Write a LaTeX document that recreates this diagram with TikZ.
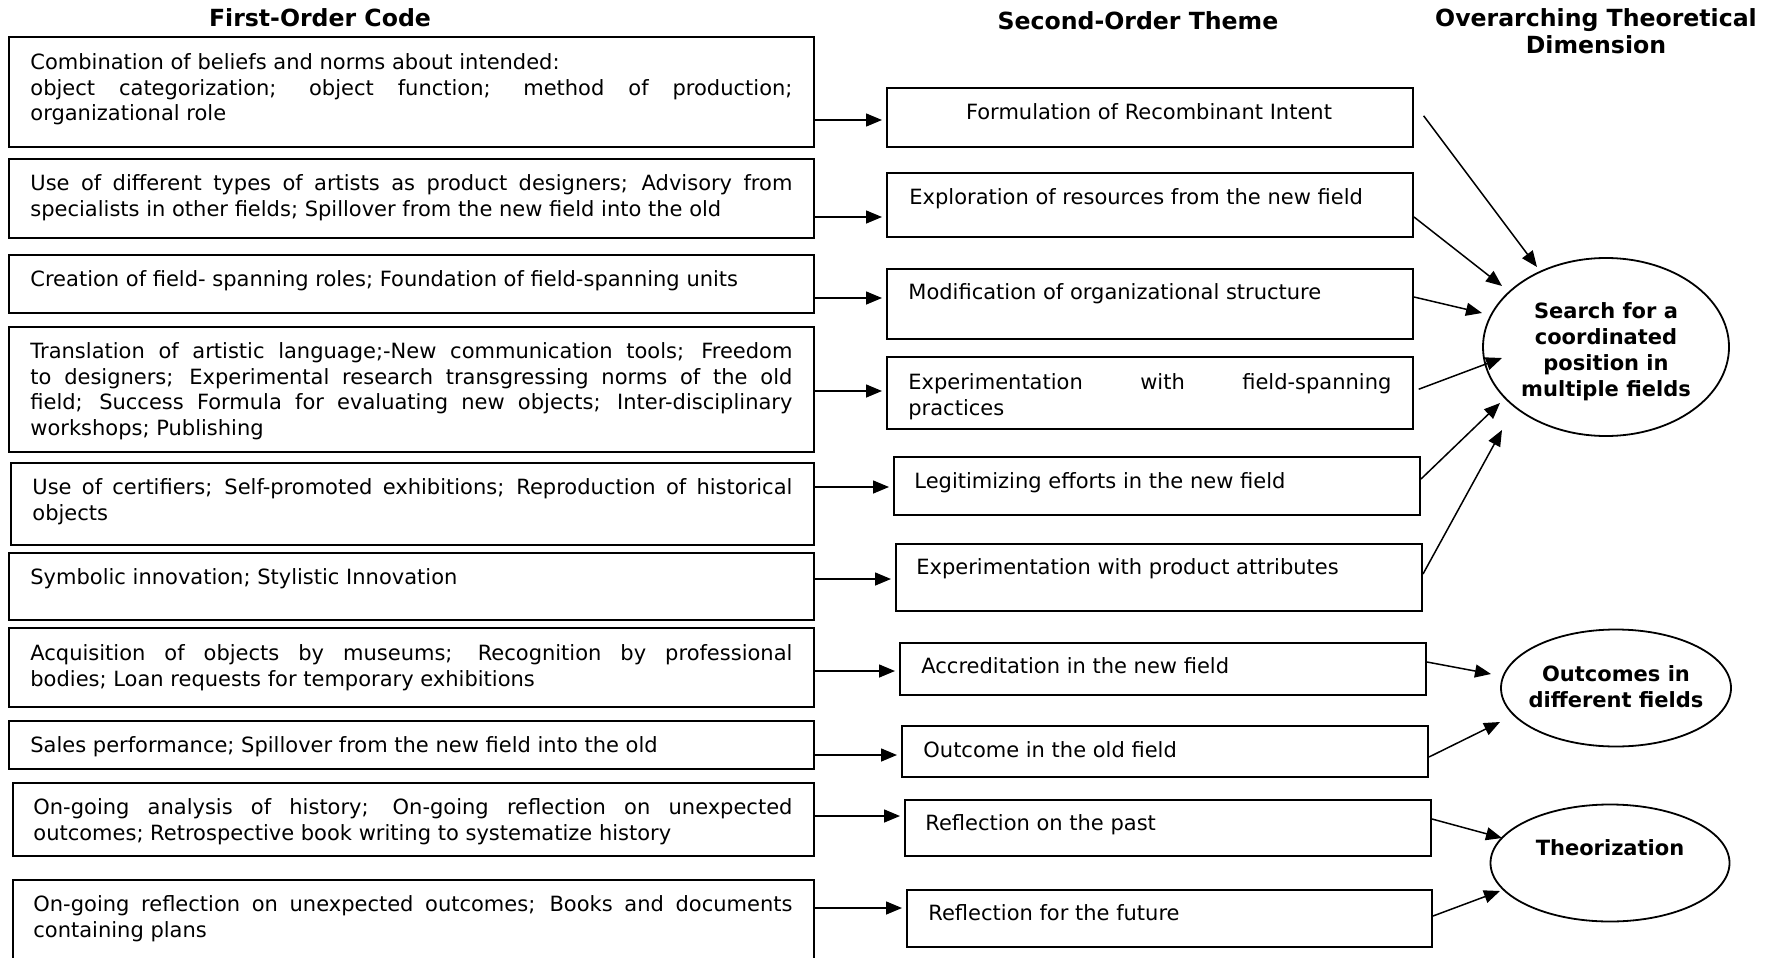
\documentclass[tikz,border=0pt]{standalone}
\usepackage{fontspec}
\setmainfont{DejaVu Sans}
\usetikzlibrary{arrows.meta,fit,shapes.geometric}
\hyphenpenalty=10000
\exhyphenpenalty=10000
\begin{document}
\begin{tikzpicture}[x=0.5pt,y=-0.5pt,
  box/.style={draw, line width=1pt, inner sep=0pt},
  ltxt/.style={anchor=north west, inner sep=0pt, align=justify, font=\fontsize{10.5}{12.9}\selectfont},
  rtxt/.style={anchor=west, inner sep=0pt, font=\fontsize{10.5}{12.9}\selectfont, text height=7pt, text depth=2pt},
  ttl/.style={font=\bfseries\fontsize{11.8}{13.5}\selectfont, align=center, inner sep=0pt},
  oval/.style={draw, ellipse, line width=0.9pt, inner sep=0pt},
  otxt/.style={font=\bfseries\fontsize{10.5}{13}\selectfont, align=center, inner sep=0pt},
  arr/.style={line width=0.75pt, -{Triangle[length=8pt,width=6.5pt]}}
]
\useasboundingbox (0,0) rectangle (1773,958);
\clip (0,0) rectangle (1773,958);
\fill[white] (0,0) rectangle (1773,958);

% titles
\node[ttl] (h1) at (320,18) {First-Order Code};
\node[ttl] (h2) at (1138,21) {Second-Order Theme};
\node[ttl] (h3) at (1596,31) {Overarching Theoretical\\Dimension};

% left boxes
\node[box, fit={(9,37) (814,147)}] (l1) {};
\node[box, fit={(9,159) (814,238)}] (l2) {};
\node[box, fit={(9,255) (814,313)}] (l3) {};
\node[box, fit={(9,327) (814,452)}] (l4) {};
\node[box, fit={(11,463) (814,545)}] (l5) {};
\node[box, fit={(9,553) (814,620)}] (l6) {};
\node[box, fit={(9,628) (814,707)}] (l7) {};
\node[box, fit={(9,721) (814,769)}] (l8) {};
\node[box, fit={(13,783) (814,856)}] (l9) {};
\node[box, fit={(13,880) (814,975)}] (l10) {};

\node[ltxt, text width=381pt] (l1t) at (30,53) {Combination of beliefs and norms about intended:\newline object categorization; object function; method of production;\linebreak organizational role};
\node[ltxt, text width=381pt] (l2t) at (30,174) {Use of different types of artists as product designers; Advisory from\linebreak specialists in other fields; Spillover from the new field into the old};
\node[ltxt, text width=381pt] (l3t) at (30,270) {Creation of field- spanning roles; Foundation of field-spanning units};
\node[ltxt, text width=381pt] (l4t) at (30,342) {Translation of artistic language;-New communication tools; Freedom\linebreak to designers; Experimental research transgressing norms of the old\linebreak field; Success Formula for evaluating new objects; Inter-disciplinary\linebreak workshops; Publishing};
\node[ltxt, text width=380pt] (l5t) at (32,478) {Use of certifiers; Self-promoted exhibitions; Reproduction of historical\linebreak objects};
\node[ltxt, text width=381pt] (l6t) at (30,568) {Symbolic innovation; Stylistic Innovation};
\node[ltxt, text width=381pt] (l7t) at (30,644) {Acquisition of objects by museums; Recognition by professional\linebreak bodies; Loan requests for temporary exhibitions};
\node[ltxt, text width=381pt] (l8t) at (30,736) {Sales performance; Spillover from the new field into the old};
\node[ltxt, text width=379.5pt] (l9t) at (33,798) {On-going analysis of history; On-going reflection on unexpected\linebreak outcomes; Retrospective book writing to systematize history};
\node[ltxt, text width=379.5pt] (l10t) at (33,895) {On-going reflection on unexpected outcomes; Books and documents\linebreak containing plans};

% right boxes
\node[box, fit={(887,88) (1413,147)}] (r1) {};
\node[box, fit={(887,173) (1413,237)}] (r2) {};
\node[box, fit={(887,269) (1413,339)}] (r3) {};
\node[box, fit={(887,357) (1413,429)}] (r4) {};
\node[box, fit={(894,457) (1420,515)}] (r5) {};
\node[box, fit={(896,544) (1422,611)}] (r6) {};
\node[box, fit={(900,643) (1426,695)}] (r7) {};
\node[box, fit={(902,726) (1428,777)}] (r8) {};
\node[box, fit={(905,800) (1431,856)}] (r9) {};
\node[box, fit={(907,890) (1432,947)}] (r10) {};

\node[rtxt, anchor=center] (r1t) at (1149,114) {Formulation of Recombinant Intent};
\node[rtxt] (r2t) at (909,199) {Exploration of resources from the new field};
\node[rtxt] (r3t) at (908,294) {Modification of organizational structure};
\node[ltxt, text width=241.5pt] (r4t) at (908,373) {Experimentation with field-spanning\linebreak practices};
\node[rtxt] (r5t) at (914,483) {Legitimizing efforts in the new field};
\node[rtxt] (r6t) at (916,569) {Experimentation with product attributes};
\node[rtxt] (r7t) at (921,668) {Accreditation in the new field};
\node[rtxt] (r8t) at (923,752) {Outcome in the old field};
\node[rtxt] (r9t) at (925,825) {Reflection on the past};
\node[rtxt] (r10t) at (928,915) {Reflection for the future};

% ellipses
\node[oval, minimum width=123pt, minimum height=89pt] (e1) at (1606,347) {};
\node[oval, minimum width=115pt, minimum height=58.5pt] (e2) at (1616,688) {};
\node[oval, minimum width=119.5pt, minimum height=58.5pt] (e3) at (1610,863) {};
\node[otxt] (e1t) at (1606,352) {Search for a\\coordinated\\position in\\multiple fields};
\node[otxt] (e2t) at (1616,687) {Outcomes in\\different fields};
\node[otxt] (e3t) at (1610,848) {Theorization};

% left-to-right arrows
\draw[arr, shorten >=2pt] (l1.east |- 0,120) -- (r1.west |- 0,120);
\draw[arr, shorten >=2pt] (l2.east |- 0,217) -- (r2.west |- 0,217);
\draw[arr, shorten >=2pt] (l3.east |- 0,298) -- (r3.west |- 0,298);
\draw[arr, shorten >=2pt] (l4.east |- 0,391) -- (r4.west |- 0,391);
\draw[arr, shorten >=2pt] (l5.east |- 0,487) -- (r5.west |- 0,487);
\draw[arr, shorten >=2pt] (l6.east |- 0,579) -- (r6.west |- 0,579);
\draw[arr, shorten >=2pt] (l7.east |- 0,671) -- (r7.west |- 0,671);
\draw[arr, shorten >=2pt] (l8.east |- 0,755) -- (r8.west |- 0,755);
\draw[arr, shorten >=2pt] (l9.east |- 0,816) -- (r9.west |- 0,816);
\draw[arr, shorten >=2pt] (l10.east |- 0,908) -- (r10.west |- 0,908);

% arrow tips near the ellipses
\coordinate (t1) at (1537,267);
\coordinate (t2) at (1502,286);
\coordinate (t3) at (1482,313);
\coordinate (t4) at (1502,358);
\coordinate (t5) at (1500,403);
\coordinate (t6) at (1502,430);
\coordinate (t7) at (1491,674);
\coordinate (t8) at (1500,722);
\coordinate (t9) at (1502,838);
\coordinate (t10) at (1500,891);

\draw[arr, shorten <=8pt] (r1.east |- 0,103) -- (t1);
\draw[arr] (r2.east |- 0,217) -- (t2);
\draw[arr] (r3.east |- 0,297) -- (t3);
\draw[arr, shorten <=2.5pt] (r4.east |- 0,391) -- (t4);
\draw[arr] (r5.east |- 0,479) -- (t5);
\draw[arr] (r6.east |- 0,574) -- (t6);
\draw[arr] (r7.east |- 0,662) -- (t7);
\draw[arr] (r8.east |- 0,757) -- (t8);
\draw[arr] (r9.east |- 0,819) -- (t9);
\draw[arr] (r10.east |- 0,916) -- (t10);
\end{tikzpicture}
\end{document}
